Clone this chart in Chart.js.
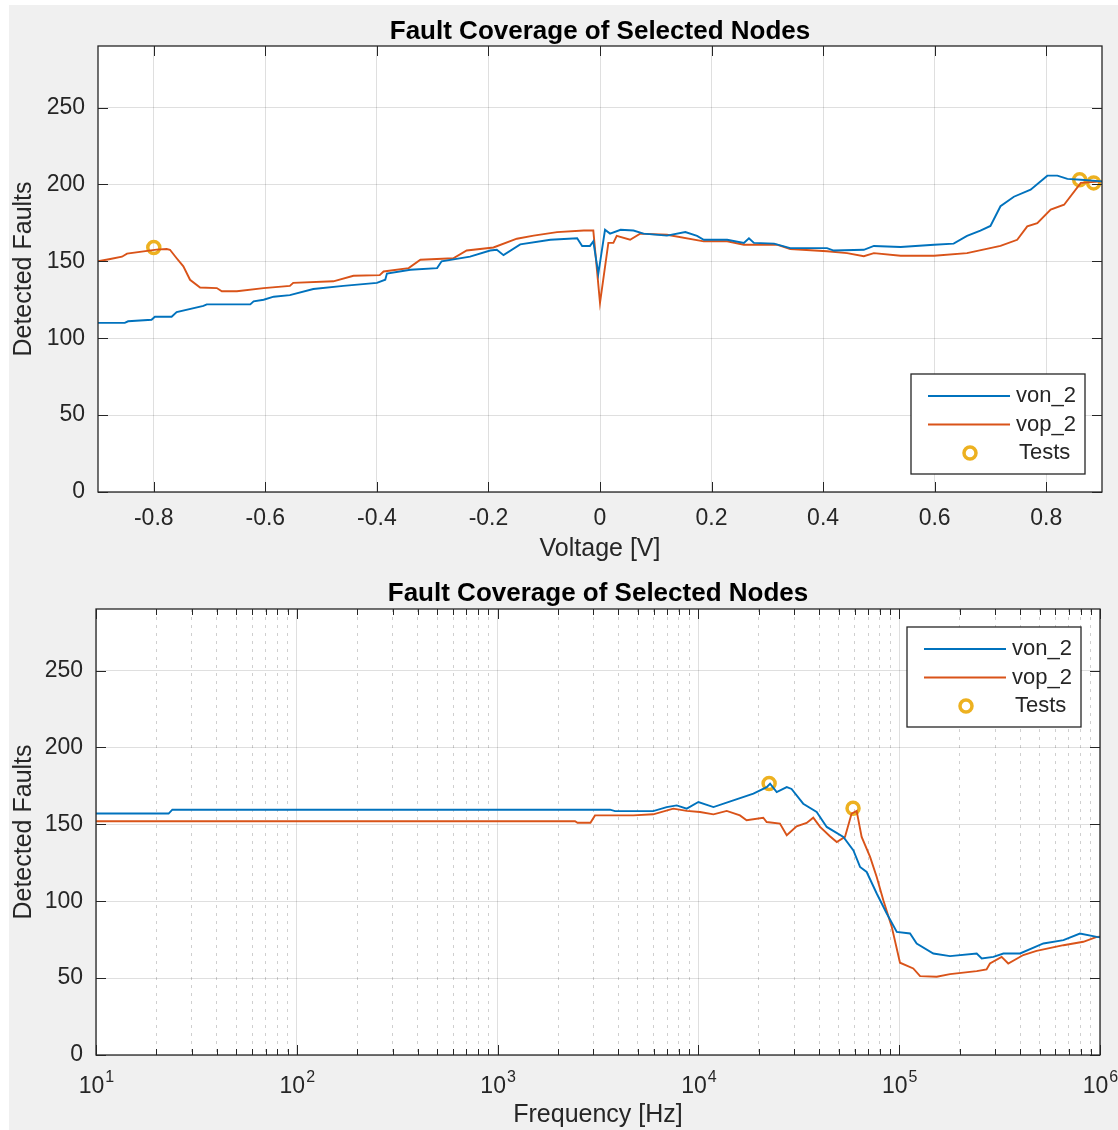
<!DOCTYPE html>
<html>
<head>
<meta charset="utf-8">
<script src="https://cdn.jsdelivr.net/npm/chart.js@4.4.1/dist/chart.umd.min.js"></script>
<style>
  body { margin: 0; background: #fff; width: 1118px; height: 1130px; overflow: hidden; position: relative; }
  #bg { position: absolute; left: 9px; top: 5px; width: 1109px; height: 1125px; background: #f0f0f0; }
  canvas { position: absolute; left: 0; }
</style>
</head>
<body>
<div id="bg"></div>
<canvas id="volt" width="1118" height="565" style="top:0"></canvas>
<canvas id="freq" width="1118" height="565" style="top:565px"></canvas>
<script>
// ---- data ----
// top plot: DC sweep
const voltTicks = [-0.8, -0.6, -0.4, -0.2, 0, 0.2, 0.4, 0.6, 0.8];
const faultTicks = [0, 50, 100, 150, 200, 250];

const vonVolt = [-0.9, -0.852, -0.846, -0.804, -0.798, -0.768, -0.759, -0.711, -0.705, -0.627, -0.621, -0.603, -0.585, -0.556, -0.514, -0.46, -0.40, -0.385, -0.382, -0.34, -0.292, -0.284, -0.233, -0.197, -0.185, -0.173, -0.143, -0.089, -0.041, -0.032, -0.018, -0.012, -0.003, 0.009, 0.018, 0.037, 0.06, 0.078, 0.12, 0.153, 0.174, 0.186, 0.228, 0.258, 0.267, 0.276, 0.312, 0.341, 0.407, 0.419, 0.473, 0.491, 0.539, 0.599, 0.634, 0.658, 0.682, 0.70, 0.718, 0.742, 0.772, 0.802, 0.82, 0.838, 0.862, 0.9];
const vonDc = [110, 110, 111, 112, 114, 114, 117, 121, 122, 122, 124, 125, 127, 128, 132, 134, 136, 138, 142, 144.5, 145.6, 150, 153, 157, 157.5, 154, 161, 164, 165, 160, 160, 163, 142, 170.5, 168, 170.5, 170, 168, 166.7, 169, 166.5, 164, 164, 162, 165, 162, 161.5, 158.6, 158.6, 157, 157.5, 160, 159.3, 160.8, 161.5, 166.5, 170, 173, 185.8, 192, 196.6, 205.7, 205.7, 203.6, 203, 202];

const vopVolt = [-0.9, -0.878, -0.857, -0.848, -0.795, -0.777, -0.771, -0.759, -0.747, -0.735, -0.717, -0.687, -0.678, -0.651, -0.603, -0.556, -0.55, -0.478, -0.442, -0.395, -0.388, -0.343, -0.322, -0.263, -0.239, -0.191, -0.149, -0.119, -0.077, -0.029, -0.012, 0.0, 0.015, 0.024, 0.030, 0.054, 0.072, 0.12, 0.186, 0.228, 0.258, 0.317, 0.341, 0.407, 0.443, 0.473, 0.491, 0.539, 0.599, 0.658, 0.718, 0.748, 0.766, 0.784, 0.808, 0.832, 0.862, 0.9];
const vopDc = [150, 151.5, 153, 155, 157.6, 158, 157.5, 152, 146.7, 138, 133, 132.6, 130.5, 130.5, 132.6, 134, 136, 137, 140.6, 141, 143.4, 145.6, 151, 152, 157, 159, 164.7, 166.7, 169, 170, 170, 123, 162, 162, 166.5, 164, 168, 167.3, 163, 163, 160.8, 160.8, 158, 156.5, 155.3, 153.3, 155.3, 153.6, 153.6, 155.3, 160, 164, 172.7, 174.8, 183.6, 186.8, 201, 202];

const testVolt = [-0.8, 0.86, 0.885];
const testDc = [159, 203, 201];

// bottom plot: AC sweep
const decades = [10, 100, 1000, 10000, 100000, 1000000];

const vonFreq = [10, 23, 24, 3630, 3846, 5957, 6950, 7798, 8750, 10000, 11885, 14928, 18793, 21878, 22750, 24547, 27542, 29107, 33266, 38815, 43551, 52723, 59156, 63826, 68865, 77268, 86696, 97270, 113240, 122180, 147910, 179060, 243220, 257630, 294440, 330370, 399940, 522400, 657650, 794330, 963830, 1000000];
const vonAc = [157, 157, 159.5, 159.5, 158.6, 158.6, 161.2, 162.3, 160.2, 164.5, 161.2, 165.6, 170, 174.2, 176.4, 171, 174.2, 173, 163.4, 158, 148.3, 141.8, 133, 122.3, 119, 105, 92, 80, 79, 72.5, 66, 64.3, 66, 62.8, 63.8, 66, 66, 72.5, 74.7, 79, 76.8, 76.5];

const vopFreq = [10, 2430, 2500, 2900, 3055, 4742, 5957, 7499, 8750, 10186, 11885, 13836, 16106, 17378, 21038, 21878, 25468, 27542, 30832, 34594, 37325, 40365, 45186, 48865, 53703, 57943, 61376, 65013, 71614, 77268, 83368, 91833, 100925, 117490, 127060, 153810, 179060, 243220, 272270, 283140, 323590, 349140, 414950, 483060, 657650, 826040, 963830, 1000000];
const vopAc = [152, 152, 151, 151, 155.8, 155.8, 156.5, 160.2, 158.7, 158, 156.5, 158.7, 155.8, 152.6, 154.3, 151.5, 150.5, 142.9, 148.7, 150.9, 154.3, 148.3, 142.2, 138.5, 141.8, 157, 158.7, 141.8, 128.8, 115.8, 100.6, 83.3, 60, 56.3, 51.3, 50.9, 52.6, 54.5, 55.6, 59.5, 63.8, 59.5, 65, 67.7, 71.4, 73.6, 76.8, 77];

const testFreq = [22500, 58900];
const testAc = [176.6, 160.4];

const chartTitle = 'Fault Coverage of Selected Nodes';

// ---- look ----
const FONT = '"Liberation Sans", Arial, Helvetica, sans-serif';
const INK = '#262626';
const BLUE = '#0072BD', ORANGE = '#D95319', GOLD = '#EDB120';

function pts(xs, ys) { return xs.map((x, i) => ({ x: x, y: ys[i] })); }

function isDecade(v) {
  const e = Math.log10(v);
  return Math.abs(e - Math.round(e)) < 1e-9;
}

// white axes background, box, inward ticks, title and 10^n labels (matlab style)
const axesBox = {
  id: 'axesBox',
  beforeDraw(chart) {
    const { ctx, chartArea: a } = chart;
    ctx.save();
    ctx.fillStyle = '#fff';
    ctx.fillRect(a.left, a.top, a.right - a.left, a.bottom - a.top);
    ctx.restore();
  },
  afterDatasetsDraw(chart) {
    const { ctx, chartArea: a } = chart;
    const xs = chart.scales.x, ys = chart.scales.y;
    ctx.save();
    ctx.strokeStyle = INK;
    ctx.lineWidth = 1;
    ctx.beginPath();
    xs.ticks.forEach(t => {
      const p = Math.round(xs.getPixelForValue(t.value)) + 0.5;
      const len = xs.type === 'logarithmic' && !isDecade(t.value) ? 6 : 10;
      ctx.moveTo(p, a.bottom); ctx.lineTo(p, a.bottom - len);
      ctx.moveTo(p, a.top); ctx.lineTo(p, a.top + len);
    });
    ys.ticks.forEach(t => {
      const p = Math.round(ys.getPixelForValue(t.value)) + 0.5;
      ctx.moveTo(a.left, p); ctx.lineTo(a.left + 10, p);
      ctx.moveTo(a.right, p); ctx.lineTo(a.right - 10, p);
    });
    ctx.stroke();
    ctx.lineWidth = 1.3;
    ctx.strokeRect(a.left, a.top, a.right - a.left, a.bottom - a.top);
    ctx.restore();
  },
  afterDraw(chart, args, opts) {
    const { ctx, chartArea: a } = chart;
    const xs = chart.scales.x;
    ctx.save();
    // title centred over the axes
    ctx.fillStyle = '#000';
    ctx.font = 'bold 26px ' + FONT;
    ctx.textAlign = 'center';
    ctx.textBaseline = 'middle';
    ctx.fillText(opts.title, (a.left + a.right) / 2, opts.titleY);
    // 10^n labels under a log axis
    if (xs.type === 'logarithmic') {
      ctx.fillStyle = INK;
      ctx.textAlign = 'left';
      ctx.textBaseline = 'alphabetic';
      xs.ticks.forEach(t => {
        if (!isDecade(t.value)) return;
        const p = xs.getPixelForValue(t.value);
        const exp = String(Math.round(Math.log10(t.value)));
        ctx.font = '23px ' + FONT;
        const wb = ctx.measureText('10').width;
        ctx.font = '16px ' + FONT;
        const we = ctx.measureText(exp).width;
        const x0 = p - (wb + we) / 2;
        ctx.font = '23px ' + FONT;
        ctx.fillText('10', x0, a.bottom + 38);
        ctx.font = '16px ' + FONT;
        ctx.fillText(exp, x0 + wb + 1, a.bottom + 27);
      });
    }
    ctx.restore();
  }
};

// boxed legend inside the axes
const boxLegend = {
  id: 'boxLegend',
  afterDraw(chart, args, opts) {
    const { ctx, chartArea: a } = chart;
    const w = 174, h = 100;
    const left = a.right - opts.right - w;
    const top = opts.corner === 'top' ? a.top + opts.gap : a.bottom - opts.gap - h;
    ctx.save();
    ctx.fillStyle = '#fff';
    ctx.fillRect(left, top, w, h);
    ctx.strokeStyle = INK;
    ctx.lineWidth = 1.3;
    ctx.strokeRect(left, top, w, h);
    ctx.font = '22px ' + FONT;
    ctx.textBaseline = 'middle';
    chart.data.datasets.forEach((ds, i) => {
      const y = top + 22 + i * 28.5;
      if (ds.showLine === false) {
        ctx.beginPath();
        ctx.strokeStyle = GOLD;
        ctx.lineWidth = 3.5;
        ctx.arc(left + 59, y, 6, 0, Math.PI * 2);
        ctx.stroke();
      } else {
        ctx.beginPath();
        ctx.strokeStyle = ds.borderColor;
        ctx.lineWidth = 1.8;
        ctx.moveTo(left + 17, y); ctx.lineTo(left + 99, y);
        ctx.stroke();
      }
      ctx.fillStyle = INK;
      ctx.fillText(ds.label, left + (ds.showLine === false ? 108 : 105), y);
    });
    ctx.restore();
  }
};

function datasets(xa, ya, xb, yb, xt, yt) {
  return [
    { label: 'von_2', data: pts(xa, ya), borderColor: BLUE, borderWidth: 1.9, pointRadius: 0, tension: 0 },
    { label: 'vop_2', data: pts(xb, yb), borderColor: ORANGE, borderWidth: 1.9, pointRadius: 0, tension: 0 },
    { label: 'Tests', data: pts(xt, yt), showLine: false, pointRadius: 6, pointBorderWidth: 3.5,
      pointBorderColor: GOLD, pointBackgroundColor: 'rgba(0,0,0,0)', pointHoverRadius: 6 }
  ];
}

function yAxis(w) {
  return {
    min: 0, max: 290,
    afterBuildTicks: s => { s.ticks = faultTicks.map(v => ({ value: v })); },
    afterFit: s => { s.width = w; s.paddingTop = 0; s.paddingBottom = 0; },
    grid: { color: 'rgba(38,38,38,0.15)', drawTicks: false },
    border: { display: false },
    ticks: { color: INK, font: { family: FONT, size: 23 }, padding: 13 },
    title: { display: true, text: 'Detected Faults', color: INK, font: { family: FONT, size: 25 }, padding: { top: 9 } }
  };
}

// top chart: voltage sweep
new Chart('volt', {
  type: 'line',
  data: { datasets: datasets(vonVolt, vonDc, vopVolt, vopDc, testVolt, testDc) },
  options: {
    responsive: false, animation: false, devicePixelRatio: 1,
    layout: { padding: { left: 0, right: 16, top: 46, bottom: 0 } },
    plugins: {
      legend: { display: false }, tooltip: { enabled: false }, title: { display: false },
      axesBox: { title: chartTitle, titleY: 31.5 },
      boxLegend: { corner: 'bottom', right: 17, gap: 18 }
    },
    scales: {
      x: {
        type: 'linear', min: -0.9, max: 0.9,
        afterBuildTicks: s => { s.ticks = voltTicks.map(v => ({ value: v })); },
        afterFit: s => { s.height = 73; s.paddingLeft = 0; s.paddingRight = 0; },
        grid: { color: 'rgba(38,38,38,0.15)', drawTicks: false },
        border: { display: false },
        ticks: { color: INK, font: { family: FONT, size: 23 }, padding: 13, maxRotation: 0,
          callback: v => String(Math.round(v * 10) / 10) },
        title: { display: true, text: 'Voltage [V]', color: INK, font: { family: FONT, size: 25 }, padding: { bottom: 1 } }
      },
      y: yAxis(98)
    }
  },
  plugins: [axesBox, boxLegend]
});

// bottom chart: frequency sweep, log axis
const freqTicks = [];
decades.forEach(d => {
  if (d === 1000000) { freqTicks.push(d); return; }
  for (let m = 1; m <= 9; m++) freqTicks.push(d * m);
});

new Chart('freq', {
  type: 'line',
  data: { datasets: datasets(vonFreq, vonAc, vopFreq, vopAc, testFreq, testAc) },
  options: {
    responsive: false, animation: false, devicePixelRatio: 1,
    layout: { padding: { left: 0, right: 18, top: 44, bottom: 0 } },
    plugins: {
      legend: { display: false }, tooltip: { enabled: false }, title: { display: false },
      axesBox: { title: chartTitle, titleY: 28.5 },
      boxLegend: { corner: 'top', right: 19, gap: 18 }
    },
    scales: {
      x: {
        type: 'logarithmic', min: 10, max: 1000000,
        afterBuildTicks: s => { s.ticks = freqTicks.map(v => ({ value: v })); },
        afterFit: s => { s.height = 75; s.paddingLeft = 0; s.paddingRight = 0; },
        grid: {
          drawTicks: false,
          color: c => isDecade(c.tick.value) ? 'rgba(38,38,38,0.15)' : 'rgba(38,38,38,0.22)'
        },
        border: { display: false, dash: c => (c.tick && isDecade(c.tick.value)) ? [] : [3, 5] },
        ticks: { color: INK, font: { family: FONT, size: 23 }, padding: 12, maxRotation: 0, minRotation: 0, autoSkip: false,
          callback: () => '' },
        title: { display: true, text: 'Frequency [Hz]', color: INK, font: { family: FONT, size: 25 }, padding: { bottom: 0 } }
      },
      y: yAxis(96)
    }
  },
  plugins: [axesBox, boxLegend]
});
</script>
</body>
</html>
